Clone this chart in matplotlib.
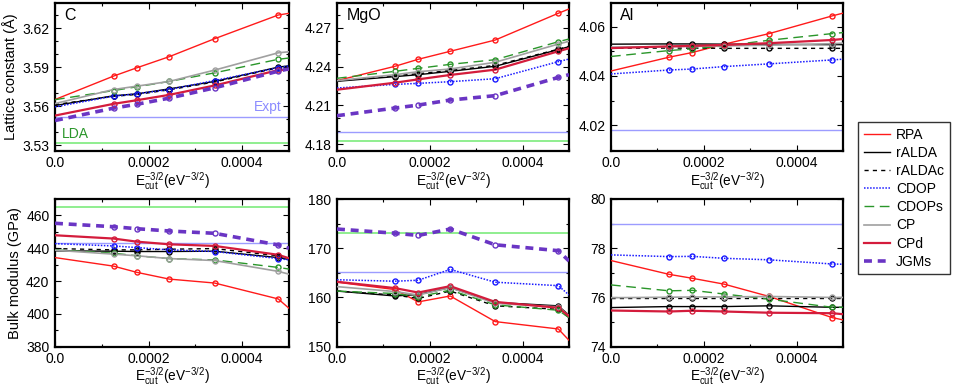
import matplotlib
matplotlib.use('Agg')
import matplotlib.pyplot as plt
from matplotlib.lines import Line2D
from matplotlib.ticker import MultipleLocator

plt.rcParams['font.family'] = ['Liberation Sans', 'DejaVu Sans']
plt.rcParams['mathtext.fontset'] = 'custom'
plt.rcParams['mathtext.rm'] = 'Liberation Sans'
plt.rcParams['mathtext.it'] = 'Liberation Sans:italic'

methods = ['RPA', 'rALDA', 'rALDAc', 'CDOP', 'CDOPs', 'CP', 'CPd', 'JGMs']
# first and last entries are the ends of the fitted/extrapolated lines (no marker)
x_points = [0.0, 0.000125, 0.000175, 0.000244, 0.000341, 0.000477, 0.0005]

c_lat = {
    'RPA':    [3.5651, 3.5831, 3.5895, 3.5980, 3.6118, 3.6300, 3.6313],
    'rALDA':  [3.5605, 3.5680, 3.5695, 3.5733, 3.5790, 3.5900, 3.5910],
    'rALDAc': [3.5612, 3.5676, 3.5690, 3.5726, 3.5786, 3.5895, 3.5905],
    'CDOP':   [3.5595, 3.5677, 3.5695, 3.5728, 3.5797, 3.5895, 3.5910],
    'CDOPs':  [3.5650, 3.5720, 3.5749, 3.5790, 3.5856, 3.5960, 3.5970],
    'CP':     [3.5620, 3.5728, 3.5754, 3.5790, 3.5877, 3.6010, 3.6018],
    'CPd':    [3.5528, 3.5618, 3.5646, 3.5687, 3.5759, 3.5877, 3.5880],
    'JGMs':   [3.5490, 3.5585, 3.5615, 3.5662, 3.5741, 3.5869, 3.5887],
}
mgo_lat = {
    'RPA':    [4.2292, 4.2403, 4.2457, 4.2519, 4.2606, 4.2813, 4.2846],
    'rALDA':  [4.2287, 4.2323, 4.2338, 4.2364, 4.2403, 4.2532, 4.2555],
    'rALDAc': [4.2290, 4.2330, 4.2345, 4.2370, 4.2410, 4.2535, 4.2558],
    'CDOP':   [4.2235, 4.2263, 4.2271, 4.2284, 4.2307, 4.2439, 4.2459],
    'CDOPs':  [4.2310, 4.2364, 4.2387, 4.2418, 4.2454, 4.2593, 4.2614],
    'CP':     [4.2292, 4.2338, 4.2361, 4.2382, 4.2434, 4.2575, 4.2596],
    'CPd':    [4.2222, 4.2276, 4.2302, 4.2336, 4.2377, 4.2519, 4.2542],
    'JGMs':   [4.2021, 4.2080, 4.2103, 4.2142, 4.2176, 4.2317, 4.2338],
}
al_lat = {
    'RPA':    [4.0420, 4.0476, 4.0495, 4.0529, 4.0572, 4.0644, 4.0655],
    'rALDA':  [4.0529, 4.0530, 4.0530, 4.0529, 4.0528, 4.0527, 4.0527],
    'rALDAc': [4.0513, 4.0513, 4.0513, 4.0512, 4.0512, 4.0512, 4.0512],
    'CDOP':   [4.0408, 4.0424, 4.0428, 4.0438, 4.0449, 4.0465, 4.0468],
    'CDOPs':  [4.0479, 4.0503, 4.0510, 4.0522, 4.0545, 4.0572, 4.0576],
    'CP':     [4.0517, 4.0519, 4.0520, 4.0522, 4.0525, 4.0531, 4.0533],
    'CPd':    [4.0513, 4.0520, 4.0522, 4.0526, 4.0533, 4.0546, 4.0550],
}
c_bulk = {
    'RPA':    [434.3, 429.1, 425.3, 421.2, 418.8, 409.1, 403.4],
    'rALDA':  [438.4, 438.2, 438.0, 438.0, 438.2, 434.3, 433.1],
    'rALDAc': [439.8, 439.0, 439.0, 439.4, 439.8, 435.4, 433.7],
    'CDOP':   [442.8, 441.4, 440.4, 439.0, 438.0, 433.7, 432.9],
    'CDOPs':  [439.0, 437.0, 435.4, 433.7, 432.9, 428.3, 427.3],
    'CP':     [438.8, 436.4, 435.4, 433.7, 432.5, 425.9, 424.2],
    'CPd':    [447.9, 445.9, 444.0, 442.4, 441.4, 436.0, 433.9],
    'JGMs':   [455.2, 453.1, 451.9, 450.5, 449.1, 442.0, 440.0],
}
mgo_bulk = {
    'RPA':    [163.1, 161.6, 159.1, 160.3, 155.1, 153.6, 151.3],
    'rALDA':  [161.3, 160.3, 160.6, 162.0, 159.0, 158.3, 156.4],
    'rALDAc': [161.3, 160.5, 159.8, 161.3, 158.3, 157.6, 155.9],
    'CDOP':   [163.6, 163.3, 163.5, 165.7, 163.1, 162.4, 160.5],
    'CDOPs':  [161.3, 160.8, 160.1, 161.5, 158.5, 157.4, 155.9],
    'CP':     [162.2, 161.2, 160.5, 162.0, 158.8, 158.1, 156.3],
    'CPd':    [163.2, 161.9, 161.0, 162.3, 159.1, 157.9, 156.2],
    'JGMs':   [173.9, 173.05, 172.6, 173.9, 170.7, 169.5, 167.4],
}
al_bulk = {
    'RPA':    [77.50, 76.94, 76.78, 76.54, 76.04, 75.18, 75.09],
    'rALDA':  [75.59, 75.63, 75.63, 75.63, 75.66, 75.60, 75.60],
    'rALDAc': [75.99, 75.99, 75.99, 75.99, 75.99, 75.99, 75.99],
    'CDOP':   [77.73, 77.66, 77.67, 77.59, 77.53, 77.36, 77.35],
    'CDOPs':  [76.51, 76.27, 76.29, 76.14, 75.93, 75.60, 75.60],
    'CP':     [75.99, 76.01, 76.02, 76.02, 76.04, 76.00, 76.00],
    'CPd':    [75.47, 75.43, 75.46, 75.43, 75.38, 75.36, 75.32],
}

expt_vals = [3.5518, 4.1892, 4.0180, 443.0, 165.1, 79.0]
lda_vals = [3.5318, 4.1822, None, 465.3, 173.05, None]
panel_names = ['C', 'MgO', 'Al', None, None, None]
ylims = [(3.5256, 3.639), (4.1748, 4.289), (4.0095, 4.0695),
         (380, 470), (150, 180), (74, 80)]
yticks = [[3.53, 3.56, 3.59, 3.62],
          [4.18, 4.21, 4.24, 4.27],
          [4.02, 4.04, 4.06],
          [380, 400, 420, 440, 460],
          [150, 160, 170, 180],
          [74, 76, 78, 80]]
yticklabels = [['3.53', '3.56', '3.59', '3.62'],
               ['4.18', '4.21', '4.24', '4.27'],
               ['4.02', '4.04', '4.06'],
               ['380', '400', '420', '440', '460'],
               ['150', '160', '170', '180'],
               ['74', '76', '78', '80']]
yminor = [0.01, 0.01, 0.01, 10, 5, 1]
datasets = [c_lat, mgo_lat, al_lat, c_bulk, mgo_bulk, al_bulk]

styles = {
    'RPA':    dict(color='#ff1a1a', lw=1.0, ls='-'),
    'rALDA':  dict(color='black', lw=1.0, ls='-'),
    'rALDAc': dict(color='black', lw=1.0, ls=(0, (3, 3))),
    'CDOP':   dict(color='#1a1aff', lw=1.1, ls=(0, (1, 1))),
    'CDOPs':  dict(color='#2a962a', lw=1.0, ls=(0, (7, 4))),
    'CP':     dict(color='#a0a0a0', lw=1.2, ls='-'),
    'CPd':    dict(color='#d41c3c', lw=1.6, ls='-'),
    'JGMs':   dict(color='#6a35c4', lw=2.6, ls=(0, (2.2, 1.6))),
}

fig = plt.figure(figsize=(9.54, 3.87), dpi=100)
W, H = 954.0, 387.0
lefts = [55, 337, 611]
widths = [234, 232, 232]
tops = [3.3, 199]
heights = [147.7, 147.7]

axes = []
for i in range(6):
    r, c = divmod(i, 3)
    ax = fig.add_axes([lefts[c] / W, 1 - (tops[r] + heights[r]) / H,
                       widths[c] / W, heights[r] / H])
    axes.append(ax)
    data = datasets[i]
    for m in methods:
        if m not in data:
            continue
        st = styles[m]
        vals = data[m]
        ax.plot(x_points, vals, color=st['color'], lw=st['lw'], ls=st['ls'], zorder=3)
        ax.plot(x_points[1:-1], vals[1:-1], ls='none', marker='o', ms=3.6,
                mfc='none', mec=st['color'], mew=1.0, zorder=4)
    ax.axhline(expt_vals[i], color='#9c9cff', lw=1.0, zorder=2)
    if lda_vals[i] is not None:
        ax.axhline(lda_vals[i], color='#8fee8f', lw=1.4, zorder=2)
    ax.set_xlim(0, 0.0005)
    ax.set_ylim(*ylims[i])
    ax.set_xticks([0, 0.0002, 0.0004])
    ax.set_xticklabels(['0.0', '0.0002', '0.0004'])
    ax.xaxis.set_minor_locator(MultipleLocator(0.0001))
    ax.set_yticks(yticks[i])
    ax.set_yticklabels(yticklabels[i])
    ax.yaxis.set_minor_locator(MultipleLocator(yminor[i]))
    ax.tick_params(which='both', direction='in', top=True, right=True,
                   labelsize=10)
    ax.tick_params(axis='x', which='major', pad=3.5)
    ax.tick_params(axis='y', which='major', pad=4)
    ax.tick_params(which='major', length=4, width=0.8)
    ax.tick_params(which='minor', length=2, width=0.8)
    for s in ax.spines.values():
        s.set_linewidth(1.6)
    ax.set_xlabel(r'E$_{\rm cut}^{-3/2}$(eV$^{-3/2}$)', fontsize=9.8, labelpad=0)
    if panel_names[i]:
        ax.text(0.04, 0.92, panel_names[i], transform=ax.transAxes,
                fontsize=11.5, va='center', ha='left')

axes[0].set_ylabel('Lattice constant (Å)', fontsize=10.5, labelpad=3)
axes[3].set_ylabel('Bulk modulus (GPa)', fontsize=10.5, labelpad=3)
axes[0].text(0.000425, 3.5595, 'Expt', color='#8c8cff', fontsize=10, va='center')
axes[0].text(0.000014, 3.5385, 'LDA', color='#2a962a', fontsize=10, va='center')

handles = [Line2D([0], [0], color=styles[m]['color'], lw=styles[m]['lw'],
                  ls=styles[m]['ls']) for m in methods]
leg = fig.legend(handles, methods, loc='upper left',
                 bbox_to_anchor=(858 / W, 1 - 122 / H), fontsize=10,
                 frameon=True, fancybox=False, edgecolor='black',
                 handlelength=1.9, handletextpad=0.45, labelspacing=0.3,
                 borderpad=0.4, borderaxespad=0)
leg.get_frame().set_linewidth(1.0)

fig.savefig('out.png', dpi=100)
